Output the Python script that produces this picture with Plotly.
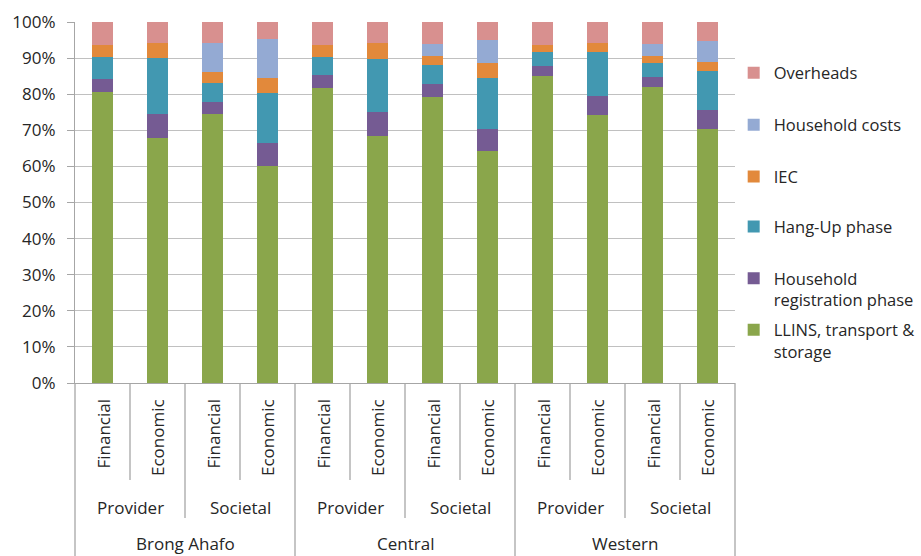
import plotly.graph_objects as go

regions = ["Brong Ahafo", "Central", "Western"]
perspectives = ["Provider", "Societal"]
cost_types = ["Financial", "Economic"]

series_names = ["LLINS, transport &<br>storage", "Household<br>registration phase",
                "Hang-Up phase", "IEC", "Household costs", "Overheads"]
llins = [80.5, 67.9, 74.5, 60.2, 81.6, 68.3, 79.2, 64.3, 85.0, 74.3, 82.1, 70.5]
hh_reg = [3.7, 6.6, 3.4, 6.3, 3.6, 6.9, 3.5, 6.2, 2.7, 5.1, 2.7, 5.0]
hang_up = [6.0, 15.5, 5.3, 13.7, 5.0, 14.5, 5.3, 13.9, 4.1, 12.4, 3.8, 11.0]
iec = [3.5, 4.3, 3.0, 4.3, 3.3, 4.6, 2.5, 4.2, 1.7, 2.5, 1.9, 2.4]
hh_costs = [0, 0, 8.0, 10.7, 0, 0, 3.3, 6.3, 0, 0, 3.3, 5.7]
overheads = [6.3, 5.7, 5.8, 4.8, 6.5, 5.7, 6.2, 5.1, 6.5, 5.7, 6.2, 5.4]

colors = ["#8aa64b", "#755b93", "#4298b1", "#e2893b", "#94aad3", "#d8908f"]
values = [llins, hh_reg, hang_up, iec, hh_costs, overheads]

# legend centre positions (paper y) for each series
legend_y = [0.1177, 0.2604, 0.433, 0.5715, 0.7147, 0.8587]

FONT = "Open Sans"
TXT = "#262626"
GRID = "#c0c0c0"
AX = "#a6a6a6"

n = len(llins)
xs = list(range(n))

fig = go.Figure()
for i, (name, vals, col) in enumerate(zip(series_names, values, colors)):
    lg = "legend" if i == 0 else f"legend{i+1}"
    fig.add_trace(go.Bar(x=xs, y=vals, name=name, marker=dict(color=col, line=dict(width=0)),
                         legend=lg))

layout_legends = {}
for i, yy in enumerate(legend_y):
    key = "legend" if i == 0 else f"legend{i+1}"
    layout_legends[key] = dict(x=0.998, xanchor="left", y=yy, yanchor="middle",
                               font=dict(family=FONT, size=16.5, color=TXT),
                               bgcolor="rgba(0,0,0,0)", valign="top")

fig.update_layout(
    barmode="stack", barnorm="percent", bargap=0.62,
    width=921, height=556,
    margin=dict(l=75, r=186, t=22, b=173, autoexpand=False),
    paper_bgcolor="white", plot_bgcolor="white",
    font=dict(family=FONT, size=17, color=TXT),
    showlegend=True,
    **layout_legends,
)

fig.update_yaxes(range=[0, 100], dtick=10, ticksuffix="%", showgrid=True, gridcolor=GRID, gridwidth=1.3,
                 showline=True, linecolor=AX, linewidth=1.3, ticks="outside", ticklen=7, tickcolor=AX,
                 ticklabelstandoff=8, tickfont=dict(family=FONT, size=17, color=TXT), zeroline=False)
fig.update_xaxes(range=[-0.5, n - 0.5], showticklabels=False, showgrid=False, zeroline=False,
                 showline=True, linecolor=AX, linewidth=1.3, ticks="")

def py(p):
    return (383 - p) / 361.0

shapes = []
for k in range(n + 1):
    if k % 4 == 0:
        yb = py(560)
    elif k % 2 == 0:
        yb = py(518)
    else:
        yb = py(480)
    shapes.append(dict(type="line", xref="paper", yref="paper", x0=k / n, x1=k / n, y0=0, y1=yb,
                       line=dict(color=AX, width=1.3)))

annotations = []
for i in range(n):
    annotations.append(dict(x=i, y=py(397), xref="x", yref="paper", text=cost_types[i % 2],
                            textangle=-90, showarrow=False, xanchor="center", yanchor="top",
                            font=dict(family=FONT, size=17, color=TXT)))
for j in range(n // 2):
    annotations.append(dict(x=2 * j + 0.5, y=py(507), xref="x", yref="paper", text=perspectives[j % 2],
                            showarrow=False, xanchor="center", yanchor="middle",
                            font=dict(family=FONT, size=17, color=TXT)))
for r in range(len(regions)):
    annotations.append(dict(x=4 * r + 1.5, y=py(543), xref="x", yref="paper", text=regions[r],
                            showarrow=False, xanchor="center", yanchor="middle",
                            font=dict(family=FONT, size=17, color=TXT)))

fig.update_layout(shapes=shapes, annotations=annotations)
fig.write_html("out.html", config={"displayModeBar": False},
               post_script="document.body.style.margin='0';document.body.style.overflow='hidden';")
